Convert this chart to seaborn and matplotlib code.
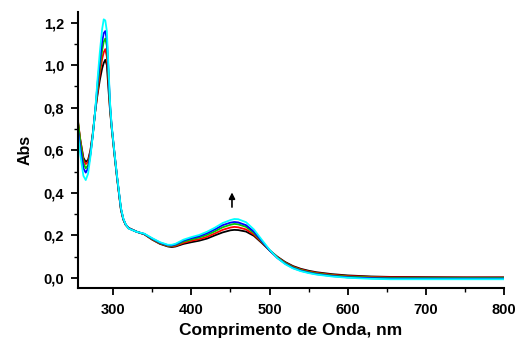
import numpy as np
import pandas as pd
import matplotlib
matplotlib.use("Agg")
import matplotlib.pyplot as plt
from matplotlib.ticker import MultipleLocator, FixedLocator, FixedFormatter
import seaborn as sns

wavelength = [255, 258, 262, 265, 268, 271, 274, 277, 280, 283, 286, 288, 290, 292, 294, 296, 298, 300,
              302, 305, 308, 310, 313, 316, 320, 330, 340, 350, 360,
              370, 375, 380, 390, 400, 410, 420, 430, 440, 450, 455, 460, 470, 480, 490, 500, 510, 520,
              530, 540, 550, 560, 580, 600, 630, 655, 660, 700, 750, 800]

abs_black = [0.73, 0.65, 0.565, 0.545, 0.555, 0.60, 0.68, 0.78, 0.86, 0.93, 0.985, 1.01, 1.025, 1.0, 0.89,
             0.79, 0.71, 0.64, 0.57, 0.47, 0.38, 0.32, 0.275, 0.25, 0.235, 0.218,
             0.205, 0.18, 0.16, 0.148, 0.145, 0.148, 0.16, 0.168, 0.175, 0.185, 0.20, 0.214, 0.224, 0.226,
             0.225, 0.218, 0.198, 0.165, 0.13, 0.10, 0.075, 0.056, 0.043, 0.034, 0.027, 0.018, 0.012, 0.007,
             0.005, 0.005, 0.004, 0.003, 0.003]
abs_red = [0.74, 0.65, 0.555, 0.535, 0.545, 0.595, 0.675, 0.78, 0.87, 0.96, 1.03, 1.06, 1.075, 1.04, 0.93,
           0.80, 0.715, 0.645, 0.575, 0.475, 0.383, 0.323, 0.276, 0.25, 0.234, 0.217,
           0.205, 0.181, 0.162, 0.150, 0.148, 0.151, 0.165, 0.175, 0.182, 0.193, 0.209, 0.226, 0.237, 0.24,
           0.238, 0.228, 0.204, 0.168, 0.13, 0.098, 0.072, 0.053, 0.04, 0.031, 0.024, 0.015, 0.009, 0.005,
           0.003, 0.003, 0.002, 0.002, 0.002]
abs_green = [0.74, 0.64, 0.54, 0.515, 0.53, 0.585, 0.67, 0.78, 0.89, 0.99, 1.07, 1.11, 1.125, 1.09, 0.96,
             0.81, 0.715, 0.645, 0.575, 0.475, 0.385, 0.325, 0.277, 0.251, 0.233, 0.217,
             0.206, 0.183, 0.164, 0.152, 0.151, 0.155, 0.171, 0.181, 0.19, 0.202, 0.219, 0.238, 0.25, 0.254,
             0.252, 0.24, 0.212, 0.171, 0.13, 0.096, 0.07, 0.05, 0.037, 0.028, 0.021, 0.012, 0.006, 0.002,
             0.0, 0.0, 0.0, 0.0, 0.0]
abs_blue = [0.70, 0.61, 0.515, 0.495, 0.515, 0.58, 0.67, 0.78, 0.91, 1.02, 1.11, 1.15, 1.16, 1.12, 0.98,
            0.82, 0.72, 0.65, 0.578, 0.478, 0.387, 0.327, 0.278, 0.252, 0.233, 0.217,
            0.207, 0.185, 0.166, 0.154, 0.153, 0.158, 0.176, 0.187, 0.196, 0.21, 0.228, 0.248, 0.26, 0.263,
            0.261, 0.248, 0.218, 0.174, 0.13, 0.094, 0.067, 0.047, 0.034, 0.025, 0.018, 0.009, 0.003, -0.001,
            -0.003, -0.003, -0.003, -0.003, -0.003]
abs_cyan = [0.68, 0.58, 0.48, 0.46, 0.49, 0.57, 0.67, 0.78, 0.93, 1.06, 1.17, 1.215, 1.21, 1.16, 1.0,
            0.83, 0.72, 0.65, 0.58, 0.48, 0.39, 0.33, 0.28, 0.252, 0.232, 0.217,
            0.208, 0.187, 0.168, 0.156, 0.156, 0.161, 0.18, 0.192, 0.202, 0.217, 0.236, 0.258, 0.272, 0.277,
            0.276, 0.262, 0.228, 0.18, 0.133, 0.094, 0.065, 0.045, 0.032, 0.023, 0.016, 0.007, 0.001, -0.004,
            -0.006, -0.006, -0.006, -0.006, -0.006]

series_names = ["s1", "s2", "s3", "s4", "s5"]
series_values = [abs_black, abs_red, abs_green, abs_blue, abs_cyan]
series_colors = ["#000000", "#ff0000", "#00cc00", "#0000ff", "#00ffff"]

y_ticks = [0.0, 0.2, 0.4, 0.6, 0.8, 1.0, 1.2]
y_ticklabels = ["0,0", "0,2", "0,4", "0,6", "0,8", "1,0", "1,2"]
x_ticks = [300, 400, 500, 600, 700, 800]
x_ticklabels = ["300", "400", "500", "600", "700", "800"]

rows = []
for name, vals in zip(series_names, series_values):
    for w, a in zip(wavelength, vals):
        rows.append({"wavelength": w, "abs": a, "series": name})
df = pd.DataFrame(rows)

sns.set_style("ticks")
plt.rcParams['font.family'] = ['Liberation Sans', 'DejaVu Sans']
plt.rcParams['font.weight'] = 'bold'
plt.rcParams['text.color'] = 'black'
plt.rcParams['axes.labelcolor'] = 'black'

fig = plt.figure(figsize=(5.16, 3.40), dpi=100)
ax = fig.add_axes([0.151, 0.153, 0.826, 0.812])

sns.lineplot(data=df, x="wavelength", y="abs", hue="series",
             palette=dict(zip(series_names, series_colors)), linewidth=1.3,
             legend=False, ax=ax, sort=False, estimator=None)

ax.set_xlim(255, 800)
ax.set_ylim(-0.047, 1.25)
sns.despine(ax=ax)
for s in ["left", "bottom"]:
    ax.spines[s].set_linewidth(1.5)
    ax.spines[s].set_color("black")

ax.yaxis.set_major_locator(FixedLocator(y_ticks))
ax.yaxis.set_major_formatter(FixedFormatter(y_ticklabels))
ax.xaxis.set_major_locator(FixedLocator(x_ticks))
ax.xaxis.set_major_formatter(FixedFormatter(x_ticklabels))
ax.yaxis.set_minor_locator(MultipleLocator(0.1))
ax.xaxis.set_minor_locator(MultipleLocator(50))
ax.tick_params(which="major", direction="out", length=5, width=1.3, labelsize=10.5, colors="black")
ax.tick_params(axis="y", which="major", pad=5)
ax.tick_params(axis="x", which="major", pad=6)
ax.tick_params(which="minor", direction="out", length=3, width=1.0, colors="black")
for lab in ax.get_xticklabels() + ax.get_yticklabels():
    lab.set_fontweight("bold")
    lab.set_color("black")

ax.set_xlabel("Comprimento de Onda, nm", fontsize=12.5, fontweight="bold", labelpad=4, color="black")
ax.set_ylabel("Abs", fontsize=11.5, fontweight="bold", labelpad=8, color="black")

ax.annotate("", xy=(452, 0.415), xytext=(452, 0.32),
            arrowprops=dict(arrowstyle="-|>", color="black", lw=1.2, mutation_scale=9))

fig.savefig("out.png", dpi=100)
